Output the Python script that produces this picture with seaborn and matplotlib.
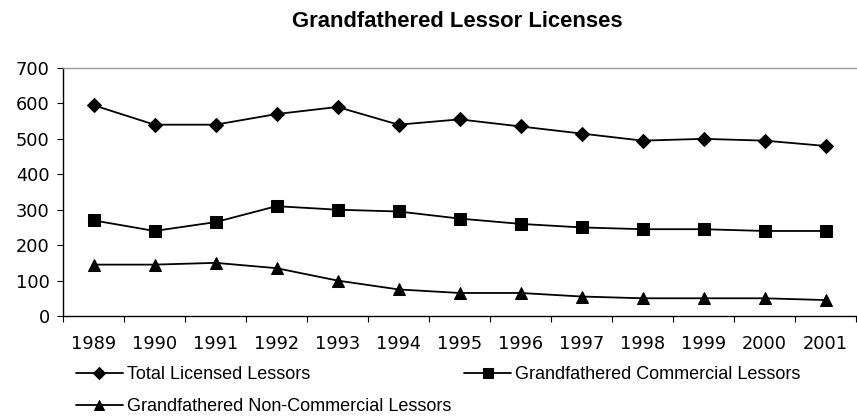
import pandas as pd
import matplotlib.pyplot as plt
import seaborn as sns
from matplotlib.ticker import FixedLocator, NullFormatter

years = ['1989', '1990', '1991', '1992', '1993', '1994', '1995',
         '1996', '1997', '1998', '1999', '2000', '2001']
total = [595, 540, 540, 570, 590, 540, 555, 535, 515, 495, 500, 495, 480]
commercial = [270, 240, 265, 310, 300, 295, 275, 260, 250, 245, 245, 240, 240]
non_commercial = [145, 145, 150, 135, 100, 75, 65, 65, 55, 50, 50, 50, 45]

series = [
    ('Total Licensed Lessors', total, 'D', 7.5),
    ('Grandfathered Commercial Lessors', commercial, 's', 8.5),
    ('Grandfathered Non-Commercial Lessors', non_commercial, '^', 9),
]

sns.set_style('white')
plt.rcParams['font.family'] = ['DejaVu Sans']
plt.rcParams['text.color'] = 'black'
plt.rcParams['xtick.color'] = 'black'
plt.rcParams['ytick.color'] = 'black'

fig = plt.figure(figsize=(8.57, 4.16), dpi=100)
ax = fig.add_axes([63 / 857, 1 - 316 / 416, (856 - 63) / 857, (316 - 68) / 416])

pos = list(range(len(years)))
for name, vals, mk, ms in series:
    df = pd.DataFrame({'x': pos, 'y': vals})
    sns.lineplot(data=df, x='x', y='y', ax=ax, color='black', lw=1.3,
                 marker=mk, markersize=ms, markeredgecolor='black',
                 markerfacecolor='black', label=name)

ax.set_xlim(-0.5, len(years) - 0.5)
ax.set_ylim(0, 700)
ax.set_yticks(range(0, 701, 100))
ax.xaxis.set_major_locator(FixedLocator([i - 0.5 for i in range(len(years) + 1)]))
ax.xaxis.set_major_formatter(NullFormatter())
ax.xaxis.set_minor_locator(FixedLocator(pos))
ax.set_xticklabels(years, minor=True)
ax.tick_params(axis='x', which='major', direction='out', length=4.5, width=0.8,
               bottom=True, color='black')
ax.tick_params(axis='x', which='minor', length=0, pad=14, labelsize=12.8)
ax.tick_params(axis='y', direction='out', length=4.5, width=0.8, left=True,
               labelsize=12.8, pad=5, color='black')
ax.set_xlabel('')
ax.set_ylabel('')

for s in ['left', 'bottom']:
    ax.spines[s].set_color('black')
    ax.spines[s].set_linewidth(1.0)
ax.spines['top'].set_color('#999999')
ax.spines['top'].set_linewidth(1.0)
ax.spines['right'].set_visible(False)

fig.text(457 / 857, 1 - 27 / 416, 'Grandfathered Lessor Licenses',
         ha='center', va='baseline', fontsize=15.8, fontweight='bold',
         family='Liberation Sans')

handles, labels = ax.get_legend_handles_labels()
ax.get_legend().remove()
# matplotlib fills legend columns first; reorder so rows read like the original
order = [0, 2, 1]
fig.legend([handles[i] for i in order], [labels[i] for i in order], ncol=2,
           loc='upper left', bbox_to_anchor=(76 / 857, 1 - 366 / 416),
           frameon=False, prop={'family': 'Liberation Sans', 'size': 13},
           handlelength=2.6, handletextpad=0.22, columnspacing=0.72,
           labelspacing=0.85, borderaxespad=0, borderpad=0, markerscale=0.85)

plt.savefig('out.png', dpi=100)
plt.close()
